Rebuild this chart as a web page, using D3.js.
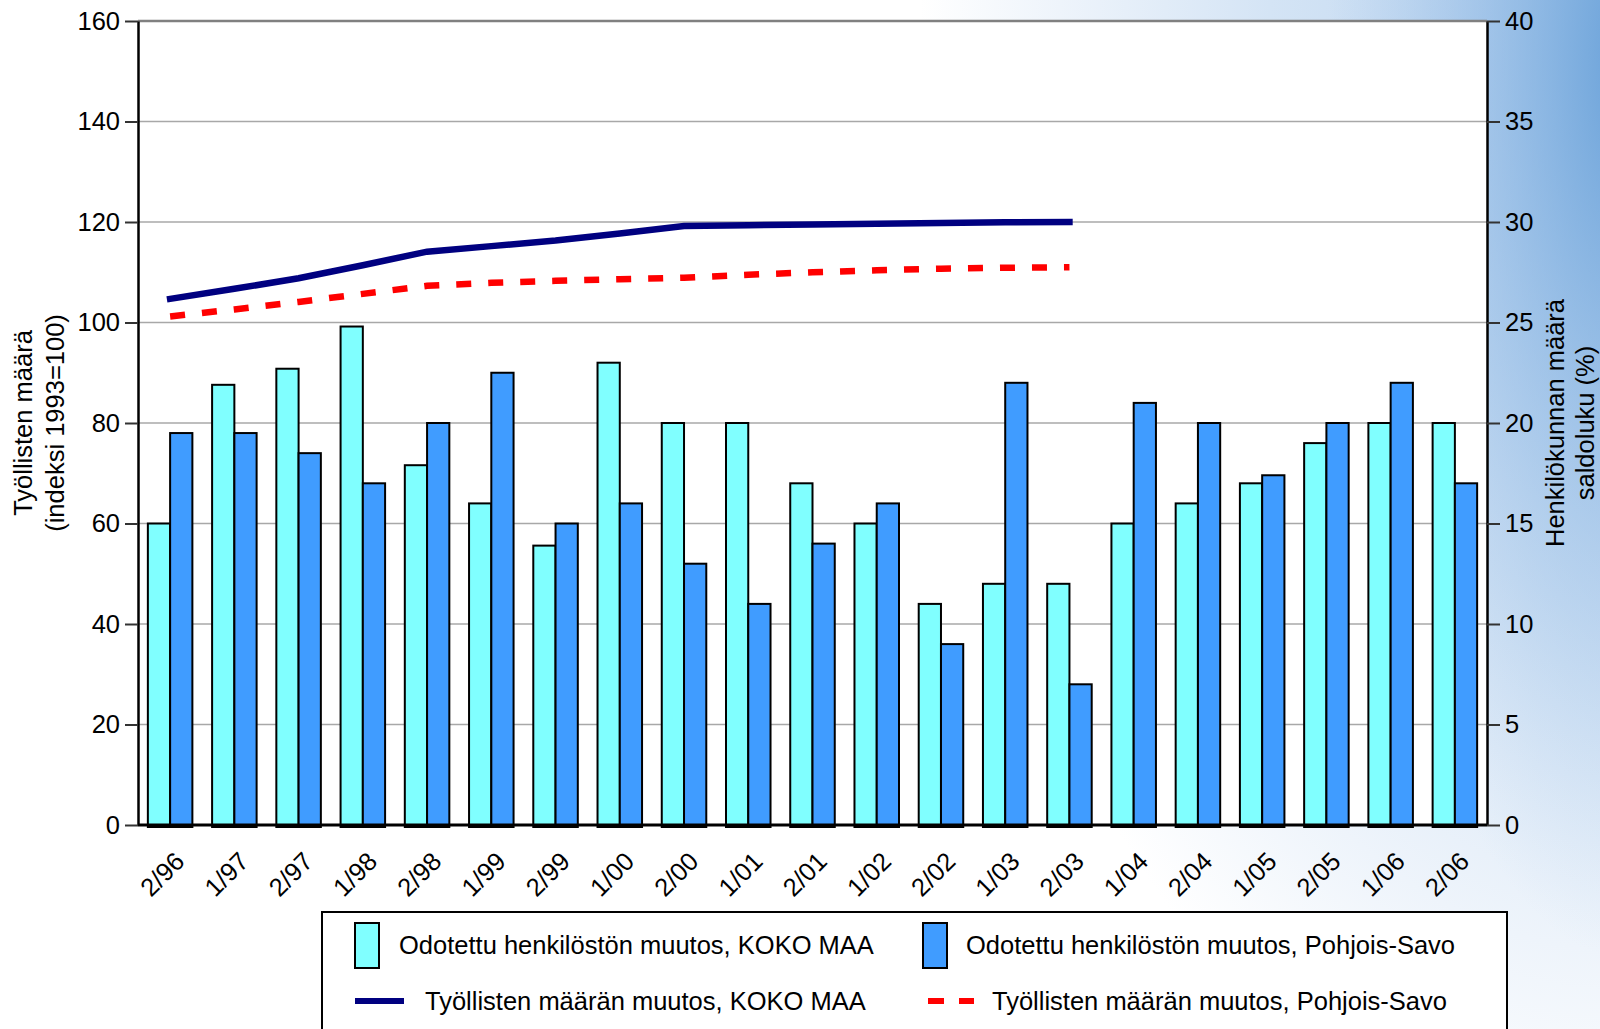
<!DOCTYPE html>
<html>
<head>
<meta charset="utf-8">
<script src="https://cdn.jsdelivr.net/npm/d3@7"></script>
<style>
  html, body { margin: 0; padding: 0; background: #ffffff; }
  svg { display: block; }
  text { font-family: "Liberation Sans", Arial, sans-serif; fill: #000; }
</style>
</head>
<body>
<svg id="chart" width="1600" height="1029"></svg>
<script>
// ---------- DATA ----------
const categories = ["2/96","1/97","2/97","1/98","2/98","1/99","2/99","1/00","2/00","1/01","2/01","1/02","2/02","1/03","2/03","1/04","2/04","1/05","2/05","1/06","2/06"];
// Expected change in personnel, saldoluku (%) – right axis
const kokoMaaBars      = [15, 21.9, 22.7, 24.8, 17.9, 16, 13.9, 23, 20, 20, 17, 15, 11, 12, 12, 15, 16, 17, 19, 20, 20];
const pohjoisSavoBars  = [19.5, 19.5, 18.5, 17, 20, 22.5, 15, 16, 13, 11, 14, 16, 9, 22, 7, 21, 20, 17.4, 20, 22, 17];
// Employed persons index (1993=100) – left axis
const kokoMaaIndex     = [104.7, 106.7, 108.8, 111.4, 114.1, 115.2, 116.3, 117.7, 119.2, 119.35, 119.5, 119.65, 119.8, 119.95, 120];
const pohjoisSavoIndex = [101.2, 102.6, 104.1, 105.7, 107.3, 107.9, 108.3, 108.6, 108.9, 109.5, 110.0, 110.4, 110.7, 110.9, 111.0];
const leftTicks  = [0, 20, 40, 60, 80, 100, 120, 140, 160];
const rightTicks = [0, 5, 10, 15, 20, 25, 30, 35, 40];
const seriesNames = [
  "Odotettu henkilöstön muutos, KOKO MAA",
  "Odotettu henkilöstön muutos, Pohjois-Savo",
  "Työllisten määrän muutos, KOKO MAA",
  "Työllisten määrän muutos, Pohjois-Savo"
];
const leftTitle  = ["Työllisten määrä", "(indeksi 1993=100)"];
const rightTitle = ["Henkilökunnan määrä", "saldoluku (%)"];

// ---------- LAYOUT ----------
const W = 1600, H = 1029;
const plot = { left: 138, right: 1487, top: 21, bottom: 825 };
const FS = 25.5;
const cCyan = "#80ffff", cBlue = "#409cff", cNavy = "#000080", cRed = "#ff0000";

const svg = d3.select("#chart");
const defs = svg.append("defs");

// background gradients (blue glow top-right)
const rg1 = defs.append("radialGradient")
  .attr("id", "bg1").attr("gradientUnits", "userSpaceOnUse")
  .attr("cx", 0).attr("cy", 0).attr("r", 1)
  .attr("gradientTransform", "translate(1620,30) scale(700,1150)");
rg1.append("stop").attr("offset", 0).attr("stop-color", "#b4d0ee");
rg1.append("stop").attr("offset", 0.5).attr("stop-color", "#d4e4f5");
rg1.append("stop").attr("offset", 0.8).attr("stop-color", "#eef4fb");
rg1.append("stop").attr("offset", 1).attr("stop-color", "#ffffff");
const rg2 = defs.append("radialGradient")
  .attr("id", "bg2").attr("gradientUnits", "userSpaceOnUse")
  .attr("cx", 0).attr("cy", 0).attr("r", 1)
  .attr("gradientTransform", "translate(1630,60) scale(300,900)");
rg2.append("stop").attr("offset", 0).attr("stop-color", "#5f9bd6").attr("stop-opacity", 0.9);
rg2.append("stop").attr("offset", 0.5).attr("stop-color", "#7eaee0").attr("stop-opacity", 0.45);
rg2.append("stop").attr("offset", 1).attr("stop-color", "#9cc0e8").attr("stop-opacity", 0);
svg.append("rect").attr("width", W).attr("height", H).attr("fill", "url(#bg1)");
svg.append("rect").attr("width", W).attr("height", H).attr("fill", "url(#bg2)");

// plot area
svg.append("rect")
  .attr("x", plot.left).attr("y", plot.top)
  .attr("width", plot.right - plot.left).attr("height", plot.bottom - plot.top)
  .attr("fill", "#ffffff");

// ---------- SCALES ----------
const x = d3.scaleBand().domain(categories)
  .range([plot.left, plot.right]).paddingInner(0.307).paddingOuter(0.1535);
const x1 = d3.scaleBand().domain([0, 1]).range([0, x.bandwidth()]);
const yL = d3.scaleLinear().domain([0, 160]).range([plot.bottom, plot.top]);
const yR = d3.scaleLinear().domain([0, 40]).range([plot.bottom, plot.top]);

// gridlines
svg.append("g").selectAll("line").data(leftTicks.filter(d => d > 0)).join("line")
  .attr("x1", plot.left).attr("x2", plot.right)
  .attr("y1", d => yL(d)).attr("y2", d => yL(d))
  .attr("stroke", d => d === 160 ? "#808080" : "#a8a8a8")
  .attr("stroke-width", d => d === 160 ? 2.5 : 1.5);

// ---------- BARS ----------
const barData = categories.map((c, i) => ({ c, v: [kokoMaaBars[i], pohjoisSavoBars[i]] }));
const gBars = svg.append("g");
gBars.selectAll("g").data(barData).join("g")
  .attr("transform", d => `translate(${x(d.c)},0)`)
  .selectAll("rect").data(d => d.v.map((v, k) => ({ v, k }))).join("rect")
  .attr("x", d => x1(d.k)).attr("width", x1.bandwidth())
  .attr("y", d => yR(d.v)).attr("height", d => yR(0) - yR(d.v) + 2)
  .attr("fill", d => d.k === 0 ? cCyan : cBlue)
  .attr("stroke", "#000").attr("stroke-width", 2);

// ---------- LINES ----------
const line = d3.line().x((d, i) => x(categories[i]) + x.bandwidth() / 2).y(d => yL(d));
svg.append("path").datum(kokoMaaIndex).attr("d", line)
  .attr("fill", "none").attr("stroke", cNavy).attr("stroke-width", 6.5)
  .attr("stroke-linecap", "square");
svg.append("path").datum(pohjoisSavoIndex).attr("d", line)
  .attr("fill", "none").attr("stroke", cRed).attr("stroke-width", 6.5)
  .attr("stroke-dasharray", "15,17");

// ---------- AXES ----------
const axL = svg.append("g").attr("transform", `translate(${plot.left},0)`)
  .call(d3.axisLeft(yL).tickValues(leftTicks).tickSize(13).tickPadding(5).tickSizeOuter(0));
const axR = svg.append("g").attr("transform", `translate(${plot.right},0)`)
  .call(d3.axisRight(yR).tickValues(rightTicks).tickSize(13).tickPadding(5).tickSizeOuter(0));
[axL, axR].forEach(a => {
  a.select(".domain").attr("stroke", "#000").attr("stroke-width", 2.5);
  a.selectAll(".tick line").attr("stroke", "#333").attr("stroke-width", 2);
  a.selectAll(".tick text").attr("font-size", FS).attr("font-family", '"Liberation Sans", Arial, sans-serif').attr("fill", "#000");
});

// bottom axis line
svg.append("line").attr("x1", plot.left).attr("x2", plot.right)
  .attr("y1", plot.bottom).attr("y2", plot.bottom)
  .attr("stroke", "#000").attr("stroke-width", 3);

// category labels (rotated)
const axB = svg.append("g").attr("transform", `translate(0,${plot.bottom})`)
  .call(d3.axisBottom(x).tickSize(0).tickPadding(0));
axB.select(".domain").remove();
axB.selectAll(".tick text")
  .attr("font-size", FS).attr("font-family", '"Liberation Sans", Arial, sans-serif').attr("fill", "#000")
  .attr("text-anchor", "end").attr("dy", 0).attr("y", 0)
  .attr("transform", "translate(16,38) rotate(-45)");

// axis titles
const lt = svg.append("text").attr("font-size", FS).attr("text-anchor", "middle")
  .attr("transform", `translate(0,${(plot.top + plot.bottom) / 2}) rotate(-90)`);
lt.append("tspan").attr("x", 0).attr("y", 32).text(leftTitle[0]);
lt.append("tspan").attr("x", 0).attr("y", 64).text(leftTitle[1]);
const rt = svg.append("text").attr("font-size", FS).attr("text-anchor", "middle")
  .attr("transform", `translate(0,${(plot.top + plot.bottom) / 2}) rotate(-90)`);
rt.append("tspan").attr("x", 0).attr("y", 1564).text(rightTitle[0]);
rt.append("tspan").attr("x", 0).attr("y", 1594).text(rightTitle[1]);

// ---------- LEGEND ----------
const lg = svg.append("g");
lg.append("rect").attr("x", 322).attr("y", 912).attr("width", 1185).attr("height", 140)
  .attr("fill", "#fff").attr("stroke", "#000").attr("stroke-width", 2);
// row 1: bar swatches
lg.append("rect").attr("x", 355).attr("y", 923).attr("width", 24).attr("height", 45)
  .attr("fill", cCyan).attr("stroke", "#000").attr("stroke-width", 2);
lg.append("text").attr("x", 399).attr("y", 954).attr("font-size", FS).text(seriesNames[0]);
lg.append("rect").attr("x", 923).attr("y", 923).attr("width", 24).attr("height", 45)
  .attr("fill", cBlue).attr("stroke", "#000").attr("stroke-width", 2);
lg.append("text").attr("x", 966).attr("y", 954).attr("font-size", FS).text(seriesNames[1]);
// row 2: lines
lg.append("line").attr("x1", 355).attr("x2", 404).attr("y1", 1001).attr("y2", 1001)
  .attr("stroke", cNavy).attr("stroke-width", 6);
lg.append("text").attr("x", 425).attr("y", 1010).attr("font-size", FS).text(seriesNames[2]);
lg.append("line").attr("x1", 928).attr("x2", 974).attr("y1", 1001).attr("y2", 1001)
  .attr("stroke", cRed).attr("stroke-width", 6).attr("stroke-dasharray", "16,15");
lg.append("text").attr("x", 992).attr("y", 1010).attr("font-size", FS).text(seriesNames[3]);
</script>
</body>
</html>
